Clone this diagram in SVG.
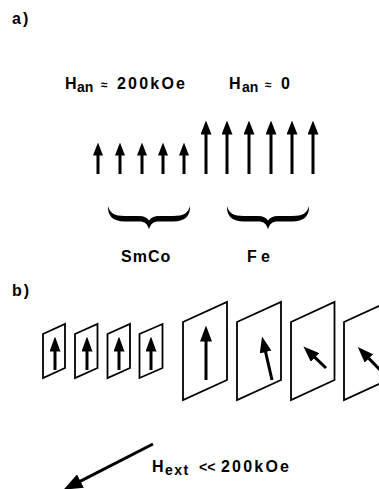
<svg xmlns="http://www.w3.org/2000/svg" width="379" height="489" viewBox="0 0 379 489">
  <style>
    text { font-family: "Liberation Sans", Arial, sans-serif; font-weight: bold; fill: #000; }
    .lbl { font-size: 16px; }
    .sub { font-size: 14px; }
    .shaft { stroke: #000; stroke-width: 3; fill: none; }
    .panel { stroke: #000; stroke-width: 1.8; fill: #fff; stroke-linejoin: miter; }
  </style>
  <defs>
    <marker id="headS" markerUnits="userSpaceOnUse" markerWidth="13" markerHeight="10" refX="0.5" refY="5" orient="auto">
      <path d="M0,0 L13,5 L0,10 Z" fill="#000"/>
    </marker>
    <marker id="headM" markerUnits="userSpaceOnUse" markerWidth="14" markerHeight="11" refX="0.5" refY="5.5" orient="auto">
      <path d="M0,0 L14,5.5 L0,11 Z" fill="#000"/>
    </marker>
    <marker id="headP" markerUnits="userSpaceOnUse" markerWidth="15" markerHeight="11" refX="0.5" refY="5.5" orient="auto">
      <path d="M0,0 L15,5.5 L0,11 Z" fill="#000"/>
    </marker>
    <marker id="headB" markerUnits="userSpaceOnUse" markerWidth="16" markerHeight="12" refX="0.5" refY="6" orient="auto">
      <path d="M0,0 L16,6 L0,12 Z" fill="#000"/>
    </marker>
    <marker id="headX" markerUnits="userSpaceOnUse" markerWidth="19" markerHeight="15" refX="0.5" refY="7.5" orient="auto">
      <path d="M0,0 L19,7.5 L0,15 Z" fill="#000"/>
    </marker>
    <!-- curly brace opening downward, 80 wide, heavier in the middle -->
    <path id="brace" d="M108,206 C107.5,215 112,221.5 125,221.5 L139,221.5 C145,221.5 147.5,224 149,229.5 C150.5,224 153,221.5 159,221.5 L173,221.5 C186,221.5 190.5,215 190,206 C188,213 184,216 173,216 L159,216 C154,216 151,217.5 149,220.5 C147,217.5 144,216 139,216 L125,216 C114,216 110,213 108,206 Z" fill="#000"/>
  </defs>

  <!-- part a: moments in the hard and soft layers -->
  <g id="label-a">
    <text class="lbl" x="12" y="24" letter-spacing="2">a)</text>
  </g>

  <g id="anisotropy-smco">
    <text class="lbl" x="65" y="89">H<tspan class="sub" x="77" dy="3">an</tspan><tspan x="101" dy="-3" font-size="12">≈</tspan><tspan x="117" letter-spacing="2.2">200kOe</tspan></text>
  </g>
  <g id="anisotropy-fe">
    <text class="lbl" x="229" y="89">H<tspan class="sub" x="242" dy="3">an</tspan><tspan x="265" dy="-3" font-size="12">≈</tspan><tspan x="281">0</tspan></text>
  </g>

  <g id="moments-smco" class="shaft" marker-end="url(#headS)">
    <line x1="98" y1="174" x2="98" y2="155"/>
    <line x1="120" y1="174" x2="120" y2="155"/>
    <line x1="142" y1="174" x2="142" y2="155"/>
    <line x1="163" y1="174" x2="163" y2="155"/>
    <line x1="184" y1="174" x2="184" y2="155"/>
  </g>
  <g id="moments-fe" class="shaft" marker-end="url(#headM)">
    <line x1="206" y1="174" x2="206" y2="134"/>
    <line x1="227" y1="174" x2="227" y2="134"/>
    <line x1="249" y1="174" x2="249" y2="134"/>
    <line x1="271" y1="174" x2="271" y2="134"/>
    <line x1="292" y1="174" x2="292" y2="134"/>
    <line x1="313" y1="174" x2="313" y2="134"/>
  </g>

  <g id="layer-smco">
    <use href="#brace"/>
    <text class="lbl" x="121" y="262" letter-spacing="1">SmCo</text>
  </g>
  <g id="layer-fe">
    <use href="#brace" transform="translate(119,0)"/>
    <text class="lbl" x="247" y="262">F<tspan x="261">e</tspan></text>
  </g>

  <!-- part b: twisted spin chain under an applied field -->
  <g id="label-b">
    <text class="lbl" x="12" y="296" letter-spacing="2">b)</text>
  </g>

  <g id="planes-smco">
    <polygon class="panel" points="43,334 65,324 65,368 43,378"/>
    <polygon class="panel" points="75,334 97.5,324 97.5,368 75,378"/>
    <polygon class="panel" points="107.5,334 130,324 130,368 107.5,378"/>
    <polygon class="panel" points="139.5,334 162.5,324 162.5,368 139.5,378"/>
  </g>
  <g id="planes-fe">
    <polygon class="panel" points="183,322 227,302 227,380 183,400"/>
    <polygon class="panel" points="237,322 281,302 281,380 237,400"/>
    <polygon class="panel" points="291,322 334.5,302 334.5,380 291,400"/>
    <polygon class="panel" points="344,322 388,302 388,380 344,400"/>
  </g>

  <g id="connectors">
    <g class="shaft" marker-end="url(#headP)">
      <line x1="55" y1="370" x2="55" y2="351"/>
      <line x1="87" y1="370" x2="87" y2="351"/>
      <line x1="119" y1="370" x2="119" y2="351"/>
      <line x1="151" y1="370" x2="151" y2="351"/>
    </g>
    <g class="shaft" stroke-width="3.2" marker-end="url(#headB)">
      <line x1="206" y1="380" x2="206" y2="341"/>
      <line x1="272" y1="380" x2="265.5" y2="351.6"/>
      <line x1="326" y1="368" x2="314.6" y2="357.1"/>
      <line x1="382" y1="372" x2="368.6" y2="358.1"/>
    </g>
    <line class="shaft" x1="153" y1="444" x2="80" y2="481.3" stroke-width="3.5" marker-end="url(#headX)"/>
  </g>

  <g id="field-label">
    <text class="lbl" x="152" y="472">H<tspan class="sub" x="165" dy="3" letter-spacing="1.5">ext</tspan><tspan x="199" dy="-3" font-size="14">&lt;&lt;</tspan><tspan x="221" letter-spacing="2.2">200kOe</tspan></text>
  </g>
</svg>
